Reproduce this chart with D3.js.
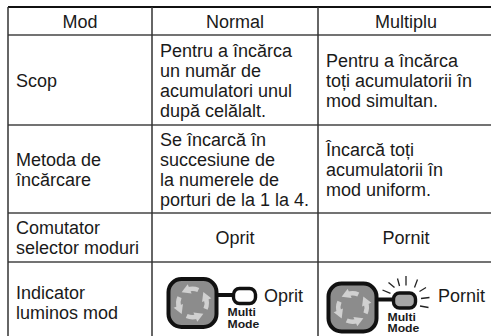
<!DOCTYPE html>
<html><head><meta charset="utf-8">
<script src="https://cdn.jsdelivr.net/npm/d3@7"></script>
<style>html,body{margin:0;padding:0;background:#fff;overflow:hidden}svg{display:block}text{font-family:"Liberation Sans",Arial,sans-serif;fill:#1a1a1a}</style>
</head><body><script>
const rowLines=[7,35,125,213,262,343];
const colLines=[8,152,318,494];
const headers=["Mod","Normal","Multiplu"];
const rowLabels=[["Scop"],["Metoda de","încărcare"],["Comutator","selector moduri"],["Indicator","luminos mod"]];
const normalCol=[["Pentru a încărca","un număr de","acumulatori unul","după celălalt."],["Se încarcă în","succesiune de","la numerele de","porturi de la 1 la 4."],["Oprit"],[]];
const multiCol=[["Pentru a încărca","toți acumulatorii în","mod simultan."],["Încarcă toți","acumulatorii în","mod uniform."],["Pornit"],[]];
const w=491,h=336,fs=18,lh=20;
const svg=d3.select("body").append("svg").attr("width",w).attr("height",h);
const line=(x1,y1,x2,y2,sw,c)=>svg.append("line").attr("x1",x1).attr("y1",y1).attr("x2",x2).attr("y2",y2).attr("stroke",c).attr("stroke-width",sw);
rowLines.forEach((y,i)=>line(colLines[0],y,colLines[3],y,i==0?2:1.5,i==0?"#111":"#444"));
colLines.forEach(x=>line(x,rowLines[0],x,rowLines[5],1.5,"#333"));
function block(lines,x,cy,anchor){
  const y0=cy-(lines.length-1)*lh/2;
  svg.append("g").selectAll("text").data(lines).join("text")
    .attr("x",x).attr("y",(d,i)=>y0+i*lh+6.5)
    .attr("text-anchor",anchor).attr("font-size",fs).text(d=>d);
}
const mid=i=>(rowLines[i]+rowLines[i+1])/2;
const cx=i=>(colLines[i]+colLines[i+1])/2;
headers.forEach((t,i)=>block([t],cx(i),mid(0),"middle"));
rowLabels.forEach((l,i)=>block(l,16,mid(i+1),"start"));
[0,1].forEach(i=>{block(normalCol[i],160,mid(i+1),"start");block(multiCol[i],326,mid(i+1),"start");});
block(normalCol[2],cx(1),mid(3),"middle");block(multiCol[2],cx(2),mid(3),"middle");
function indicator(x,y,on,label,lx){
  const g=svg.append("g").attr("transform",`translate(${x},${y})`);
  g.append("rect").attr("x",-24).attr("y",-24).attr("width",48).attr("height",48).attr("rx",13).attr("fill","#8c8c8c").attr("stroke","#111").attr("stroke-width",4);
  const arc=d3.arc().innerRadius(12).outerRadius(16.5);
  [0,1,2,3].forEach(k=>{
    const a=k*Math.PI/2;
    g.append("path").attr("d",arc({startAngle:a-0.35,endAngle:a+0.42})).attr("fill","#d0d0d0");
    const t=a-0.4;
    g.append("path").attr("d",d3.symbol(d3.symbolTriangle,44)()).attr("fill","#d0d0d0")
      .attr("transform",`translate(${14.2*Math.sin(t)},${-14.2*Math.cos(t)}) rotate(${t*180/Math.PI-90})`);
  });
  g.append("line").attr("x1",24).attr("x2",41).attr("y1",-8).attr("y2",-8).attr("stroke","#111").attr("stroke-width",4);
  g.append("rect").attr("x",41).attr("y",-14.5).attr("width",22).attr("height",15).attr("rx",6).attr("fill",on?"#a6a6a6":"#fff").attr("stroke","#111").attr("stroke-width",3.4);
  ["Multi","Mode"].forEach((t,i)=>g.append("text").attr("transform",`translate(35,${13+i*11.5}) scale(1.22,1)`).attr("font-size",10).attr("font-weight","bold").text(t));
  if(on){
    const rays=[[-22,-9.5,-14,-6.2],[-16,-17,-10,-12],[-7,-21,-5,-13.5],[1.5,-23.5,1.5,-14],[13,-20,10,-12],[21.5,-12,15,-8],[25,-2,16.5,-1],[24,8,15.5,6.5]];
    rays.forEach(r=>g.append("line").attr("x1",52+r[0]).attr("y1",-8+r[1]).attr("x2",52+r[2]).attr("y2",-8+r[3]).attr("stroke","#222").attr("stroke-width",1.3));
  }
  svg.append("text").attr("x",lx).attr("y",302).attr("font-size",fs).text(label);
}
indicator(192.5,303,false,"Oprit",264);
indicator(352.5,307.5,true,"Pornit",438);
</script></body></html>
